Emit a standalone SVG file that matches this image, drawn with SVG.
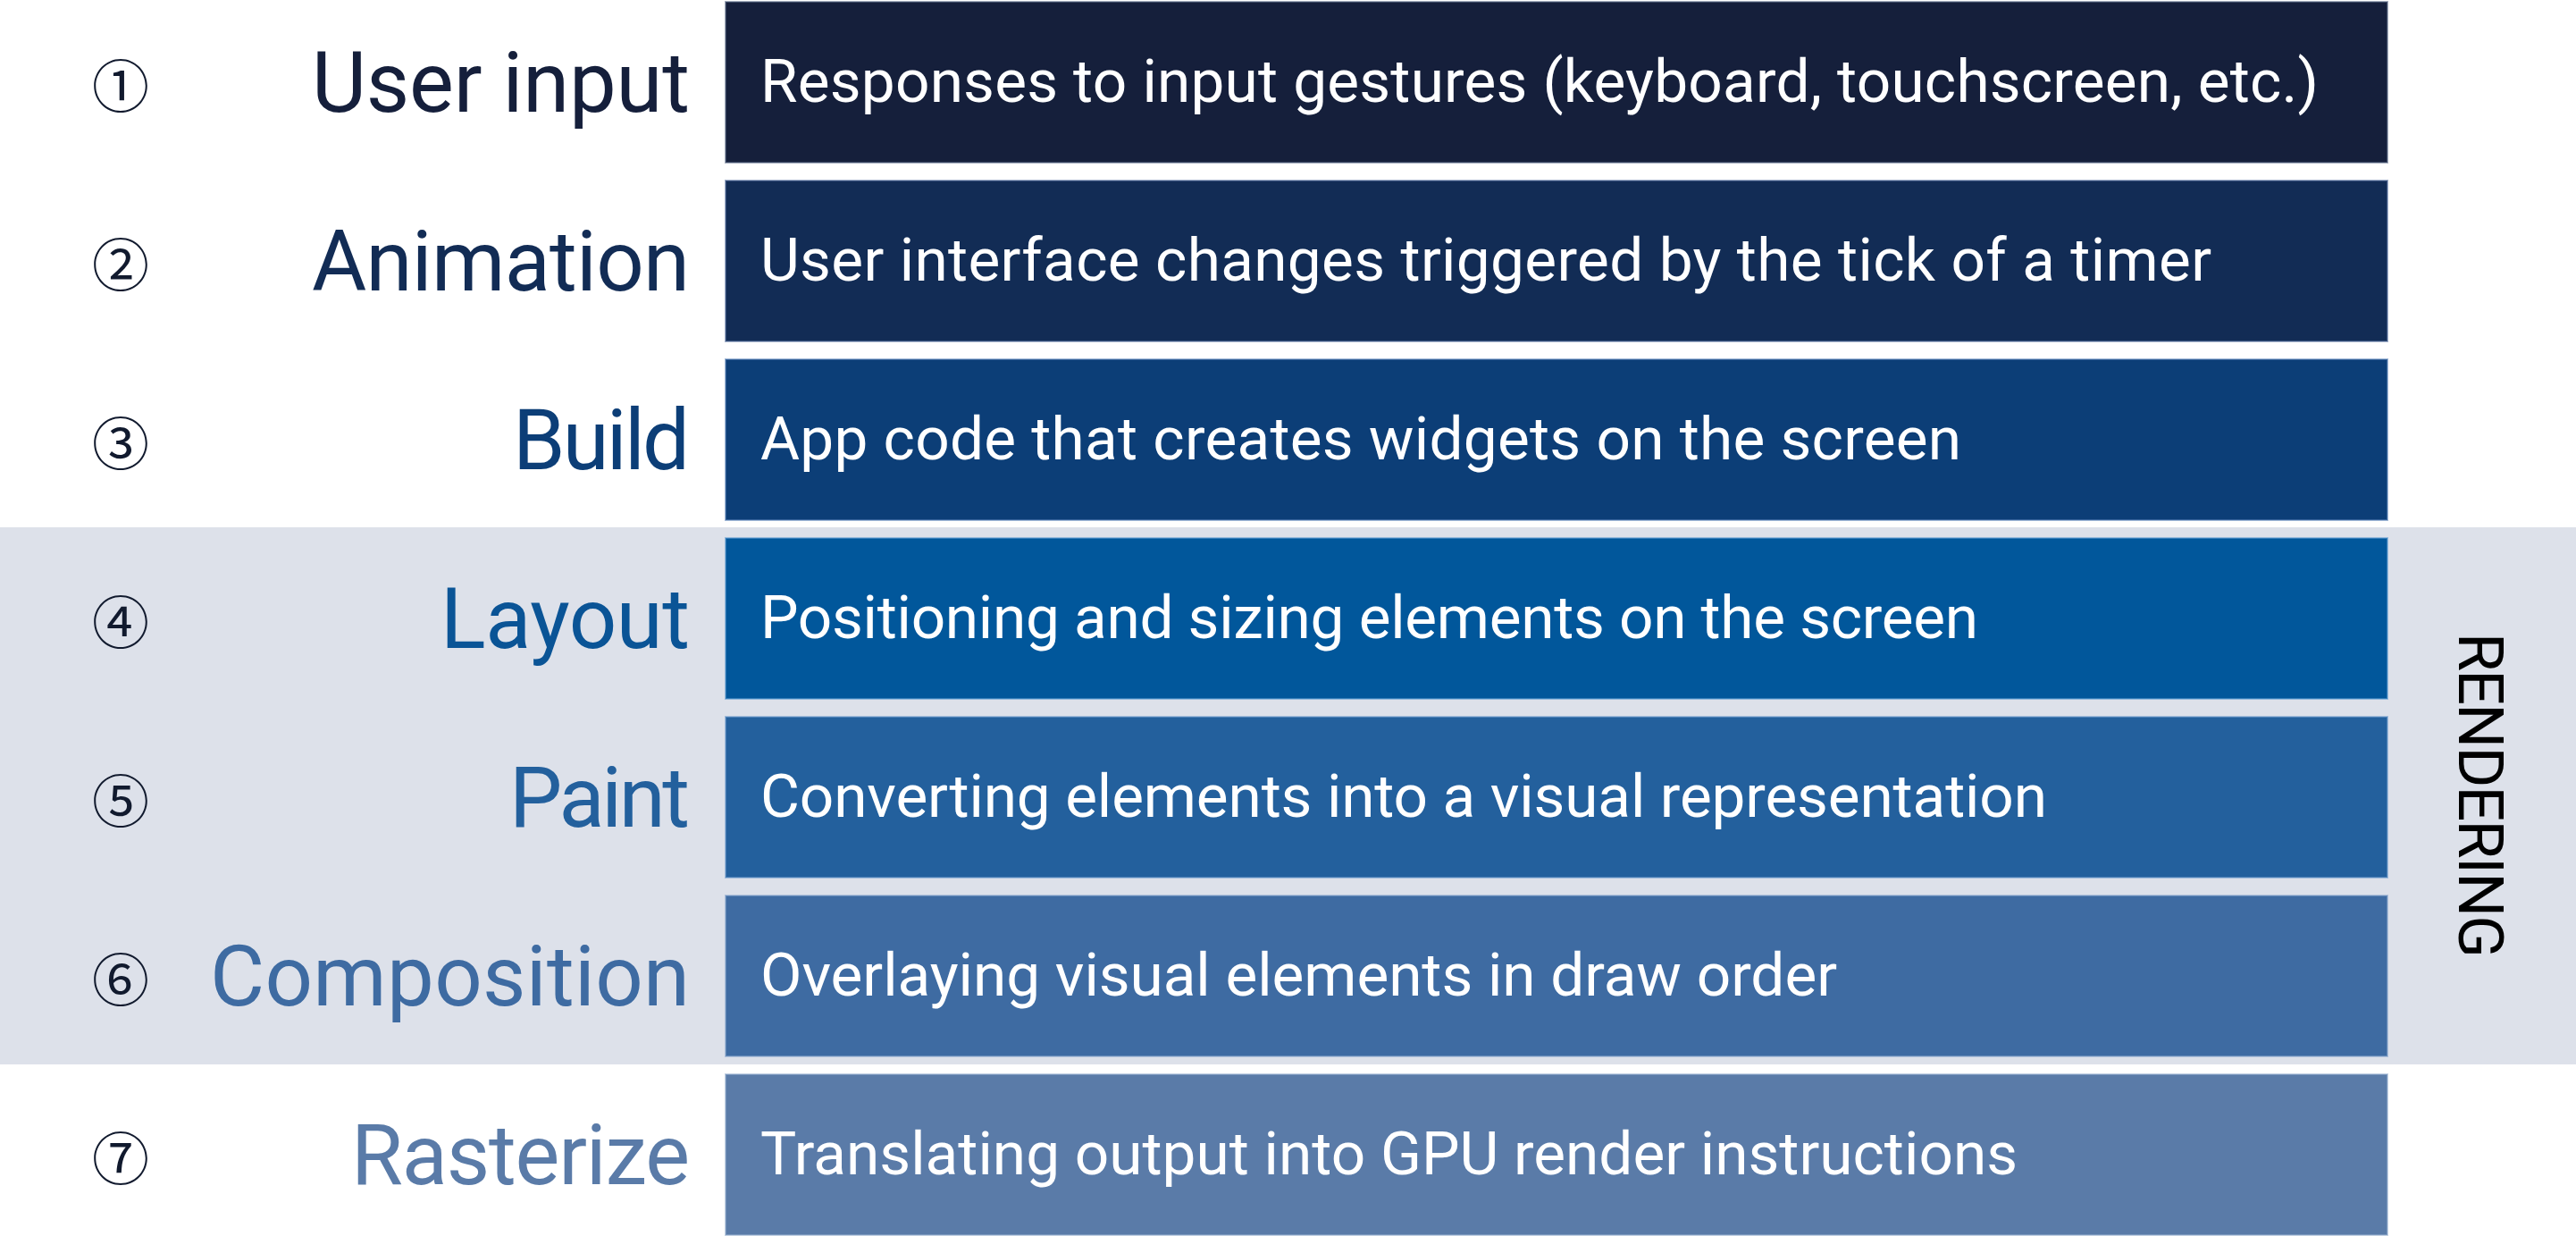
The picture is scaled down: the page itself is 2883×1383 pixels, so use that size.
<svg xmlns="http://www.w3.org/2000/svg" width="2883" height="1383" viewBox="0 0 2883 1383">
<style>
.box{stroke-width:2;stroke-opacity:0.55}
.desc{font-family:Roboto,"Liberation Sans",sans-serif;font-size:67.5px;fill:#ffffff}
.lbl{font-family:Roboto,"Liberation Sans",sans-serif;font-size:94px;text-anchor:end}
.num{font-family:"Noto Sans CJK JP","DejaVu Sans",sans-serif;font-size:64px;fill:#111a2e;text-anchor:middle;dominant-baseline:central}
.side{font-family:Roboto,"Liberation Sans",sans-serif;font-size:70px;fill:#000000;text-anchor:middle}
</style>
<rect x="0" y="0" width="2883" height="1383" fill="#ffffff"/>
<rect id="rendering-band" x="0" y="590" width="2883" height="601" fill="#dde1ea"/>
<g id="connectors"></g>
<g id="step1">
<text class="num" x="135" y="92">①</text>
<text class="lbl" x="772" y="125" fill="#151f3b" textLength="423" lengthAdjust="spacing">User input</text>
<rect class="box" x="812" y="2" width="1860" height="180" fill="#151f3b" stroke="#5d6c89"/>
<text class="desc" x="851" y="114" textLength="1744" lengthAdjust="spacing">Responses to input gestures (keyboard, touchscreen, etc.)</text>
</g>
<g id="step2">
<text class="num" x="135" y="292">②</text>
<text class="lbl" x="772" y="325" fill="#122c55" textLength="423" lengthAdjust="spacing">Animation</text>
<rect class="box" x="812" y="202" width="1860" height="180" fill="#122c55" stroke="#5a72a0"/>
<text class="desc" x="851" y="314" textLength="1624" lengthAdjust="spacing">User interface changes triggered by the tick of a timer</text>
</g>
<g id="step3">
<text class="num" x="135" y="492">③</text>
<text class="lbl" x="772" y="525" fill="#0c3e77" textLength="198" lengthAdjust="spacing">Build</text>
<rect class="box" x="812" y="402" width="1860" height="180" fill="#0c3e77" stroke="#5a82b8"/>
<text class="desc" x="851" y="514" textLength="1344" lengthAdjust="spacing">App code that creates widgets on the screen</text>
</g>
<g id="step4">
<text class="num" x="135" y="692">④</text>
<text class="lbl" x="772" y="725" fill="#0a5496" textLength="279" lengthAdjust="spacing">Layout</text>
<rect class="box" x="812" y="602" width="1860" height="180" fill="#01579b" stroke="#5b9ad0"/>
<text class="desc" x="851" y="714" textLength="1363" lengthAdjust="spacing">Positioning and sizing elements on the screen</text>
</g>
<g id="step5">
<text class="num" x="135" y="892">⑤</text>
<text class="lbl" x="772" y="925" fill="#23609d" textLength="202" lengthAdjust="spacing">Paint</text>
<rect class="box" x="812" y="802" width="1860" height="180" fill="#23609d" stroke="#6f9ccc"/>
<text class="desc" x="851" y="914" textLength="1440" lengthAdjust="spacing">Converting elements into a visual representation</text>
</g>
<g id="step6">
<text class="num" x="135" y="1092">⑥</text>
<text class="lbl" x="772" y="1125" fill="#3e6ba2" textLength="537" lengthAdjust="spacing">Composition</text>
<rect class="box" x="812" y="1002" width="1860" height="180" fill="#3e6ba2" stroke="#86a6cc"/>
<text class="desc" x="851" y="1114" textLength="1205" lengthAdjust="spacing">Overlaying visual elements in draw order</text>
</g>
<g id="step7">
<text class="num" x="135" y="1292">⑦</text>
<text class="lbl" x="772" y="1325" fill="#5a7ba8" textLength="379" lengthAdjust="spacing">Rasterize</text>
<rect class="box" x="812" y="1202" width="1860" height="180" fill="#5a7ba8" stroke="#95aece"/>
<text class="desc" x="851" y="1314" textLength="1407" lengthAdjust="spacing">Translating output into GPU render instructions</text>
</g>
<g id="rendering-label">
<text class="side" transform="translate(2752,890) rotate(90)" x="0" y="0" textLength="364" lengthAdjust="spacing">RENDERING</text>
</g>
</svg>
